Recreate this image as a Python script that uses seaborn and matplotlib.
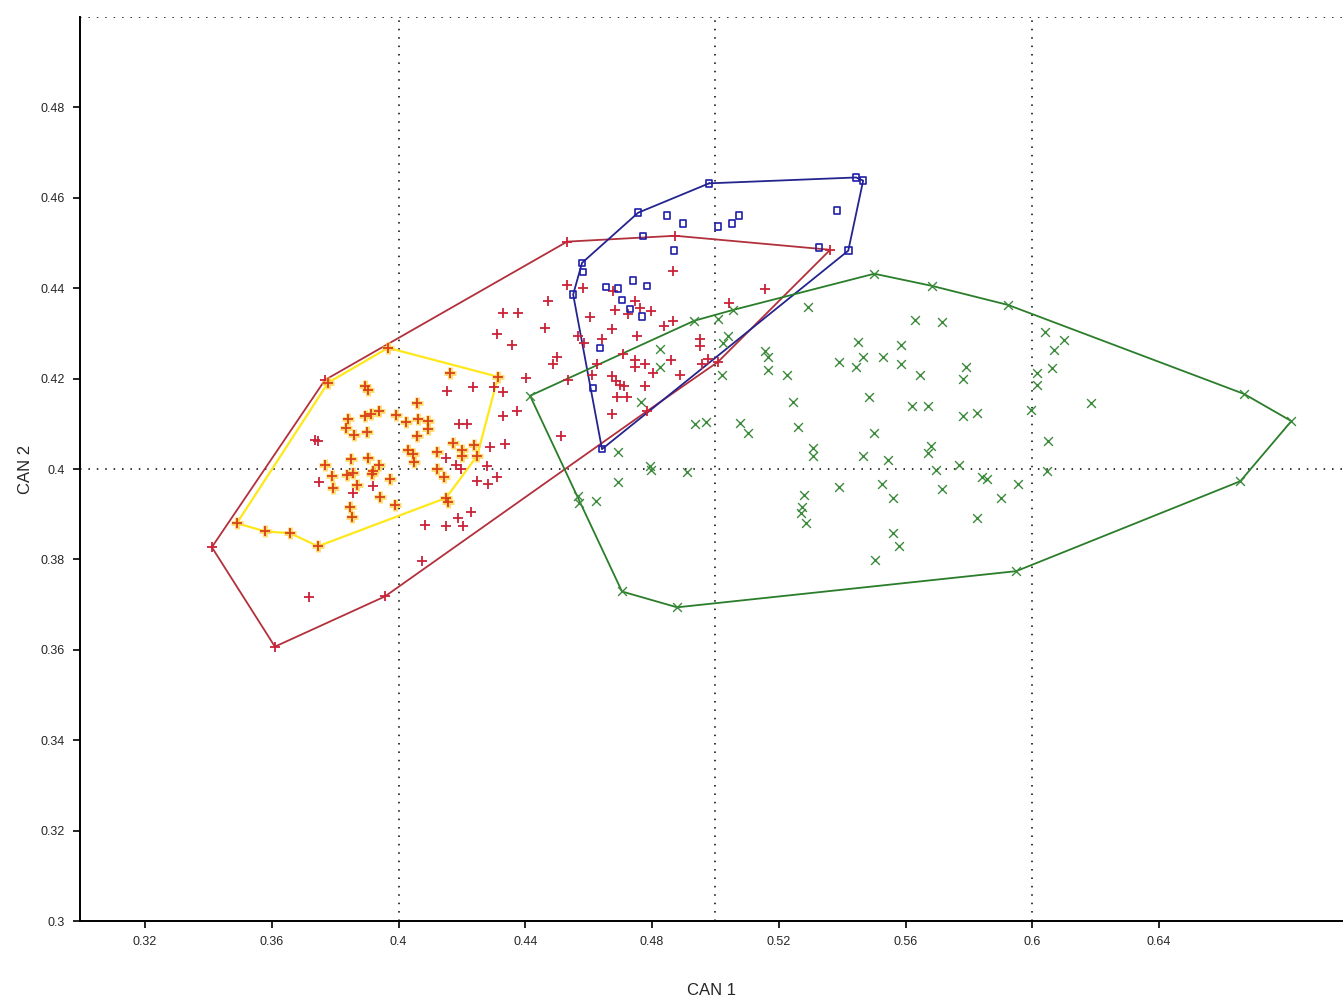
import matplotlib
matplotlib.use("Agg")
import matplotlib.pyplot as plt
import seaborn as sns
import pandas as pd

# ---------------- data (CAN 1, CAN 2) ----------------
# Group "yellow" (points with yellow hull)
yellow_hull_x = [0.3490, 0.3579, 0.3658, 0.3746, 0.4150, 0.4248, 0.4314, 0.3967, 0.3778]
yellow_hull_y = [0.3880, 0.3862, 0.3858, 0.3829, 0.3936, 0.4029, 0.4204, 0.4268, 0.4191]
yellow_x = [0.3894, 0.3904, 0.4163, 0.4058, 0.3841, 0.3894, 0.3913, 0.3939, 0.3992, 0.4024,
            0.4062, 0.4093, 0.4093, 0.3834, 0.3860, 0.3901, 0.4058, 0.4172, 0.4200, 0.4200,
            0.4238, 0.4030, 0.4046, 0.4049, 0.4122, 0.4122, 0.4144, 0.3850, 0.3904, 0.3768,
            0.3939, 0.3920, 0.3916, 0.3790, 0.3838, 0.3856, 0.3793, 0.3869, 0.3973, 0.3942,
            0.3989, 0.3847, 0.3853, 0.4156]
yellow_y = [0.4184, 0.4175, 0.4213, 0.4146, 0.4111, 0.4117, 0.4122, 0.4128, 0.4120, 0.4104,
            0.4111, 0.4106, 0.4089, 0.4091, 0.4075, 0.4082, 0.4073, 0.4058, 0.4042, 0.4029,
            0.4053, 0.4042, 0.4033, 0.4015, 0.4038, 0.4000, 0.3982, 0.4022, 0.4024, 0.4009,
            0.4009, 0.3995, 0.3989, 0.3984, 0.3987, 0.3991, 0.3958, 0.3964, 0.3978, 0.3938,
            0.3920, 0.3916, 0.3893, 0.3927]

# Group "red"
red_hull_x = [0.3411, 0.3610, 0.3957, 0.4784, 0.5008, 0.5362, 0.4873, 0.4532, 0.3768]
red_hull_y = [0.3827, 0.3607, 0.3718, 0.4128, 0.4237, 0.4485, 0.4516, 0.4503, 0.4197]
red_x = [0.4153, 0.4235, 0.4301, 0.4330, 0.4330, 0.4191, 0.4216, 0.3737, 0.3746, 0.4289,
         0.4336, 0.4150, 0.4182, 0.4197, 0.4279, 0.4311, 0.4248, 0.4283, 0.3749, 0.3856,
         0.3920, 0.4229, 0.4188, 0.4204, 0.4084, 0.4150, 0.4074, 0.3718,
         0.4866, 0.4532, 0.4582, 0.4472, 0.4677, 0.4746, 0.5043, 0.5157, 0.4330, 0.4377,
         0.4311, 0.4358, 0.4462, 0.4500, 0.4488, 0.4402, 0.4374, 0.4513, 0.4535, 0.4627,
         0.4567, 0.4586, 0.4604, 0.4642, 0.4674, 0.4683, 0.4762, 0.4724, 0.4797, 0.4753,
         0.4838, 0.4866, 0.4611, 0.4674, 0.4686, 0.4699, 0.4712, 0.4746, 0.4746, 0.4778,
         0.4860, 0.4803, 0.4888, 0.4778, 0.4690, 0.4721, 0.4674, 0.4709, 0.4952, 0.4952,
         0.4977, 0.4958]
red_y = [0.4173, 0.4182, 0.4182, 0.4171, 0.4117, 0.4100, 0.4100, 0.4064, 0.4062, 0.4049,
         0.4055, 0.4024, 0.4009, 0.4000, 0.4007, 0.3982, 0.3973, 0.3967, 0.3971, 0.3947,
         0.3962, 0.3905, 0.3891, 0.3874, 0.3876, 0.3874, 0.3796, 0.3716,
         0.4439, 0.4406, 0.4401, 0.4372, 0.4394, 0.4372, 0.4368, 0.4399, 0.4346, 0.4346,
         0.4299, 0.4275, 0.4312, 0.4248, 0.4233, 0.4202, 0.4128, 0.4073, 0.4197, 0.4233,
         0.4295, 0.4279, 0.4337, 0.4288, 0.4310, 0.4352, 0.4357, 0.4344, 0.4350, 0.4295,
         0.4317, 0.4328, 0.4208, 0.4206, 0.4195, 0.4186, 0.4184, 0.4242, 0.4226, 0.4233,
         0.4242, 0.4213, 0.4208, 0.4184, 0.4160, 0.4160, 0.4122, 0.4255, 0.4288, 0.4273,
         0.4244, 0.4233]

# Group "blue"
blue_hull_x = [0.4980, 0.5444, 0.5466, 0.5419, 0.4642, 0.4551, 0.4579, 0.4756]
blue_hull_y = [0.4632, 0.4645, 0.4638, 0.4483, 0.4044, 0.4386, 0.4456, 0.4567]
blue_x = [0.4847, 0.4898, 0.5008, 0.5052, 0.5075, 0.5384, 0.4869, 0.4772, 0.5327, 0.4582,
          0.4655, 0.4693, 0.4740, 0.4784, 0.4705, 0.4731, 0.4768, 0.4636, 0.4614]
blue_y = [0.4561, 0.4543, 0.4536, 0.4543, 0.4561, 0.4572, 0.4483, 0.4516, 0.4490, 0.4436,
          0.4403, 0.4399, 0.4417, 0.4405, 0.4374, 0.4354, 0.4337, 0.4268, 0.4179]

# Group "green"
green_hull_x = [0.4415, 0.4705, 0.4879, 0.5949, 0.6656, 0.6817, 0.6668, 0.5923, 0.5684,
                0.5501, 0.5056, 0.4933]
green_hull_y = [0.4162, 0.3729, 0.3694, 0.3774, 0.3973, 0.4106, 0.4166, 0.4363, 0.4405,
                0.4432, 0.4352, 0.4328]
green_x = [0.5292, 0.5630, 0.5715, 0.5008, 0.5040, 0.5024, 0.4825, 0.4825, 0.4765, 0.5021,
           0.5157, 0.5166, 0.5166, 0.5226, 0.5450, 0.5466, 0.5444, 0.5390, 0.5529, 0.5586,
           0.5586, 0.5646, 0.5791, 0.5782, 0.5485, 0.5621, 0.5671, 0.5782, 0.5826, 0.5245,
           0.5261, 0.5501, 0.5078, 0.5103, 0.4936, 0.4971, 0.4693, 0.4794, 0.4797, 0.4911,
           0.4693, 0.4623, 0.4567, 0.4570, 0.5308, 0.5308, 0.5466, 0.5545, 0.5681, 0.5671,
           0.5769, 0.5696, 0.5715, 0.5842, 0.5857, 0.5955, 0.5902, 0.5826, 0.5390, 0.5526,
           0.5561, 0.5280, 0.5273, 0.5270, 0.5286, 0.5561, 0.5580, 0.5504, 0.6040, 0.6100,
           0.6069, 0.6062, 0.6015, 0.6015, 0.5996, 0.6186, 0.6050, 0.6047]
green_y = [0.4359, 0.4330, 0.4326, 0.4332, 0.4295, 0.4279, 0.4266, 0.4226, 0.4148, 0.4208,
           0.4261, 0.4248, 0.4219, 0.4208, 0.4281, 0.4248, 0.4226, 0.4237, 0.4248, 0.4275,
           0.4233, 0.4208, 0.4226, 0.4199, 0.4159, 0.4140, 0.4140, 0.4117, 0.4124, 0.4148,
           0.4093, 0.4080, 0.4102, 0.4080, 0.4100, 0.4104, 0.4038, 0.4007, 0.3998, 0.3993,
           0.3971, 0.3929, 0.3940, 0.3924, 0.4046, 0.4029, 0.4029, 0.4020, 0.4051, 0.4035,
           0.4009, 0.3998, 0.3956, 0.3982, 0.3978, 0.3967, 0.3936, 0.3891, 0.3960, 0.3967,
           0.3936, 0.3942, 0.3916, 0.3902, 0.3880, 0.3858, 0.3829, 0.3798, 0.4304, 0.4286,
           0.4264, 0.4224, 0.4213, 0.4186, 0.4131, 0.4146, 0.4062, 0.3995]

x_ticks = [0.32, 0.36, 0.40, 0.44, 0.48, 0.52, 0.56, 0.60, 0.64]
x_tick_labels = ["0.32", "0.36", "0.4", "0.44", "0.48", "0.52", "0.56", "0.6", "0.64"]
y_ticks = [0.30, 0.32, 0.34, 0.36, 0.38, 0.40, 0.42, 0.44, 0.46, 0.48]
y_tick_labels = ["0.3", "0.32", "0.34", "0.36", "0.38", "0.4", "0.42", "0.44", "0.46", "0.48"]
grid_x = [0.4, 0.5, 0.6]
grid_y = [0.4, 0.5]

# ---------------- plotting ----------------
sns.set_style("white")
plt.rcParams["font.family"] = ["Liberation Sans", "DejaVu Sans"]

fig = plt.figure(figsize=(13.43, 10.0), dpi=100)
ax = fig.add_axes([80 / 1343, 0.079, 1 - 80 / 1343, 0.904])

dot = (0, (1, 4.5))
for gx in grid_x:
    ax.axvline(gx, color="black", linestyle=dot, linewidth=1.1, zorder=1)
for gy in grid_y:
    ax.axhline(gy, color="black", linestyle=dot, linewidth=1.1, zorder=1)


def closed(xs, ys):
    return pd.DataFrame({"x": list(xs) + [xs[0]], "y": list(ys) + [ys[0]]})


hulls = [
    (red_hull_x, red_hull_y, "#b2303c", 1.3),
    (yellow_hull_x, yellow_hull_y, "#ffe81a", 1.6),
    (blue_hull_x, blue_hull_y, "#24248f", 1.3),
    (green_hull_x, green_hull_y, "#2a7d2a", 1.3),
]
for hx, hy, col, lw in hulls:
    d = closed(hx, hy)
    sns.lineplot(data=d, x="x", y="y", sort=False, estimator=None, color=col,
                 linewidth=lw, ax=ax, zorder=2)

# green x
gdf = pd.DataFrame({"x": green_x + green_hull_x, "y": green_y + green_hull_y})
sns.scatterplot(data=gdf, x="x", y="y", marker="x", s=40, color="#3a8a3a",
                linewidth=1.0, ax=ax, zorder=3)

# red +
rdf = pd.DataFrame({"x": red_x + red_hull_x, "y": red_y + red_hull_y})
sns.scatterplot(data=rdf, x="x", y="y", marker="+", s=50, color="#cc2238",
                linewidth=1.3, ax=ax, zorder=4)

# yellow group: yellow halo + orange-red cross
ydf = pd.DataFrame({"x": yellow_x + yellow_hull_x, "y": yellow_y + yellow_hull_y})
sns.scatterplot(data=ydf, x="x", y="y", marker="+", s=70, color="#ffd24a",
                linewidth=3.5, alpha=0.8, ax=ax, zorder=4)
sns.scatterplot(data=ydf, x="x", y="y", marker="+", s=50, color="#d8401a",
                linewidth=1.3, ax=ax, zorder=5)

# blue squares
bdf = pd.DataFrame({"x": blue_x + blue_hull_x, "y": blue_y + blue_hull_y})
sns.scatterplot(data=bdf, x="x", y="y", marker="s", s=22, facecolor="none",
                edgecolor="#1f1fa8", linewidth=1.2, ax=ax, zorder=6)

ax.set_xlim(0.2995, 0.698)
ax.set_ylim(0.3, 0.5)
ax.set_xticks(x_ticks)
ax.set_xticklabels(x_tick_labels)
ax.set_yticks(y_ticks)
ax.set_yticklabels(y_tick_labels)
ax.tick_params(axis="both", direction="out", length=5, width=1.2, color="black",
               labelsize=9, pad=6, bottom=True, left=True)

for side in ["top", "right"]:
    ax.spines[side].set_visible(False)
for side in ["left", "bottom"]:
    ax.spines[side].set_color("black")
    ax.spines[side].set_linewidth(1.4)

ax.set_xlabel("CAN 1", fontsize=12, labelpad=25)
ax.set_ylabel("CAN 2", fontsize=12, labelpad=5)
ax.grid(False)

fig.savefig("out.png", dpi=100, facecolor="white")
